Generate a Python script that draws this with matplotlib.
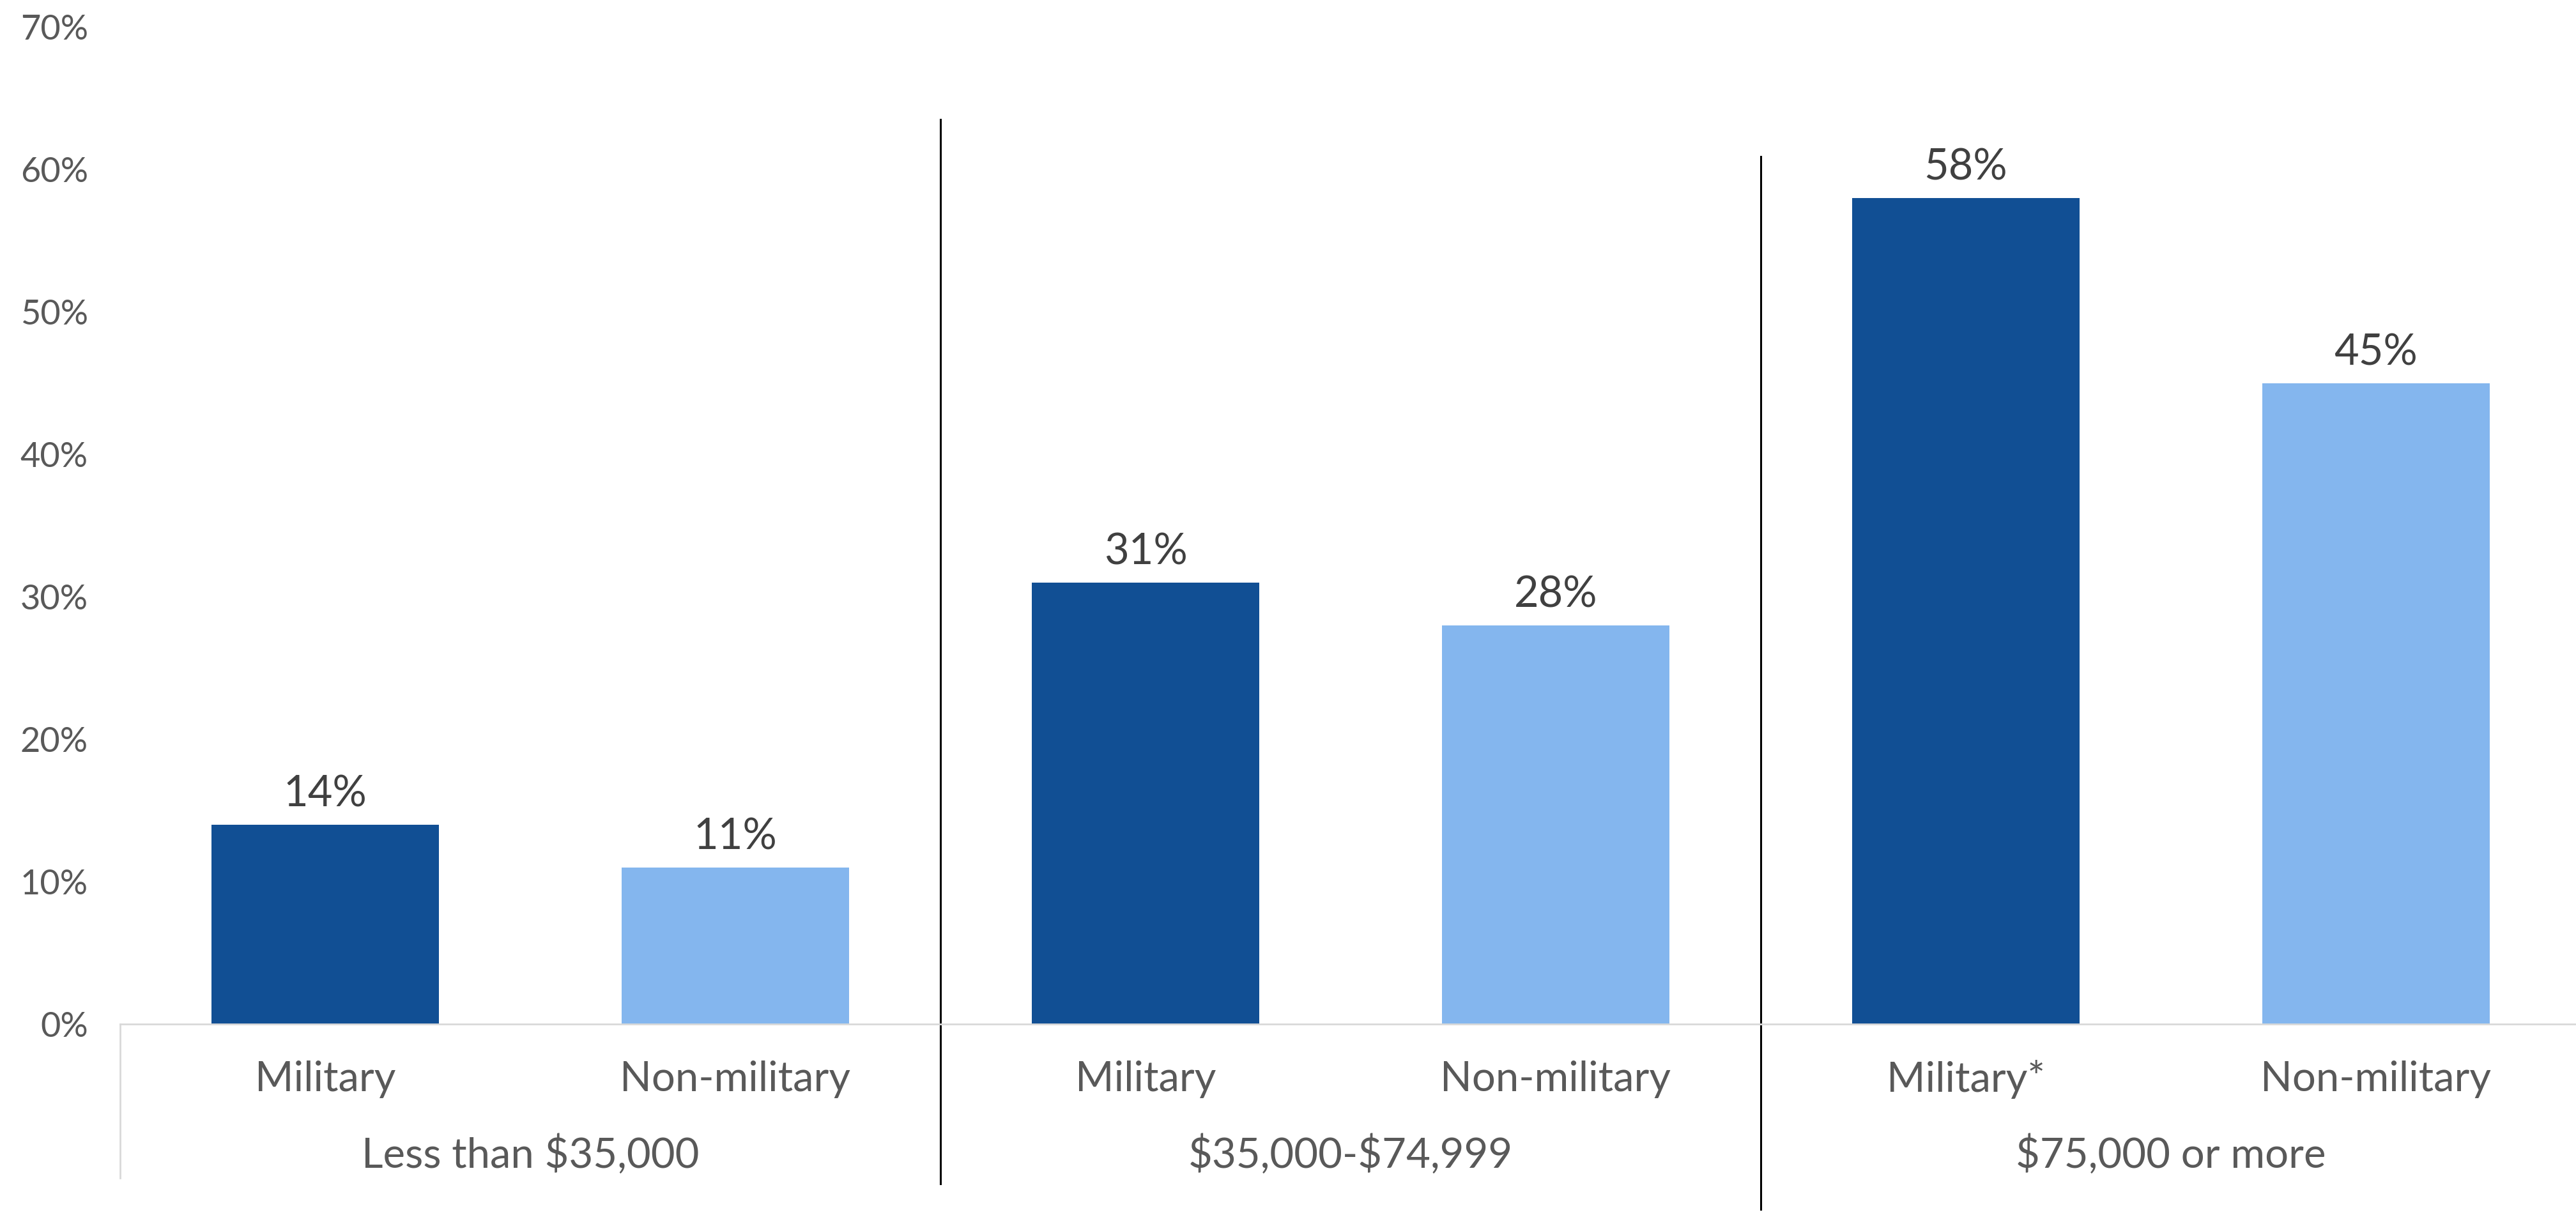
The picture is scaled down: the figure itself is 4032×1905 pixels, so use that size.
import numpy as np
import matplotlib.pyplot as plt
from matplotlib.lines import Line2D

# Share with the outcome, by household income and military status
groups = ["Less than $35,000", "$35,000-$74,999", "$75,000 or more"]
bar_labels = ["Military", "Non-military", "Military", "Non-military", "Military*", "Non-military"]
military = [14, 31, 58]
non_military = [11, 28, 45]
y_ticks = [0, 10, 20, 30, 40, 50, 60, 70]

dark_blue = "#114f94"
light_blue = "#84b6ee"
text_gray = "#595959"
value_gray = "#404040"

plt.rcParams['font.family'] = ['Lato', 'DejaVu Sans']

fig = plt.figure(figsize=(40.32, 19.05), dpi=100)
W, H = 4032, 1905
ax = fig.add_axes([188 / W, (H - 1603) / H, (4040 - 188) / W, (1603 - 42) / H])

# interleave the two series: military then non-military in each group
values = []
colors = []
for m, n in zip(military, non_military):
    values += [m, n]
    colors += [dark_blue, light_blue]
x = np.arange(len(values))

bars = ax.bar(x, values, width=0.553, color=colors, zorder=2)
for xi, v in zip(x, values):
    ax.annotate(f"{v}%", (xi, v), xytext=(0, 34), textcoords="offset points",
                ha="center", va="center", fontsize=48, color=value_gray)

ax.set_xlim(-0.5, len(values) - 0.5)
ax.set_ylim(0, 70)
ax.set_yticks(y_ticks)
ax.set_yticklabels([f"{t}%" for t in y_ticks], fontsize=39, color=text_gray)
ax.tick_params(axis="y", length=0, pad=36)
ax.set_xticks([])

for s in ["top", "right", "left"]:
    ax.spines[s].set_visible(False)
ax.spines["bottom"].set_color("#d9d9d9")
ax.spines["bottom"].set_linewidth(2)

# bar names and group names under the axis
for xi, lab in zip(x, bar_labels):
    ax.text(xi, -3.9, lab, ha="center", va="center", fontsize=47, color=text_gray,
            clip_on=False, parse_math=False)
for gi, g in enumerate(groups):
    ax.text(2 * gi + 0.5, -9.15, g, ha="center", va="center", fontsize=47, color=text_gray,
            clip_on=False, parse_math=False)

# left border of the category area and group separators
ax.add_line(Line2D([-0.5, -0.5], [0, -10.8], color="#d9d9d9", lw=2, clip_on=False))
ax.add_line(Line2D([1.5, 1.5], [63.5, -11.2], color="black", lw=2.2, clip_on=False))
ax.add_line(Line2D([3.5, 3.5], [60.9, -13.0], color="black", lw=2.2, clip_on=False))

fig.savefig("out.png", dpi=100)
